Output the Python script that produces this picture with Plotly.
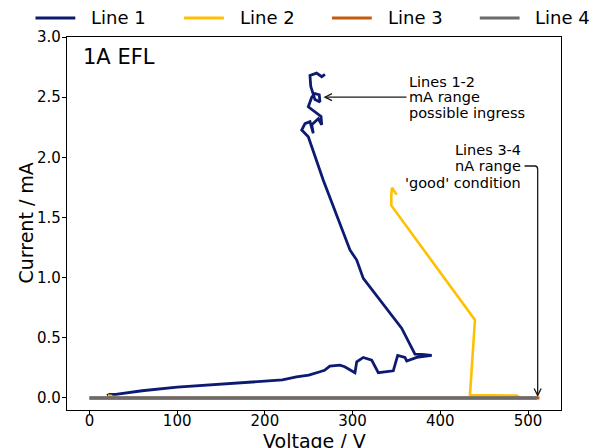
import plotly.graph_objects as go

# ---- data -------------------------------------------------------------
line1_v = [20, 23, 30, 60, 100, 130, 160, 200, 220, 236, 250, 262.8, 268, 274,
           285.6, 291, 297, 302.7, 304.7, 312.2, 321.8, 329.3, 346.4, 348.3,
           351.4, 359.7, 361.7, 373.1, 390.2, 378.8, 371.1, 355.9, 312.2,
           304.7, 297, 266.6, 249.5, 242, 245.7, 251.4, 255.2, 253.4, 260.9,
           264.8, 264, 249.5, 253.4, 257.1, 262, 262.8, 257.1, 252.3, 251.4,
           259, 264.8, 268.5]
line1_i = [0.02, 0.03, 0.03, 0.06, 0.09, 0.105, 0.12, 0.14, 0.15, 0.176, 0.19,
           0.218, 0.23, 0.265, 0.273, 0.26, 0.232, 0.21, 0.30, 0.337, 0.315,
           0.21, 0.226, 0.27, 0.354, 0.337, 0.307, 0.337, 0.354, 0.362, 0.365,
           0.58, 0.994, 1.146, 1.23, 1.81, 2.17, 2.227, 2.28, 2.296, 2.2, 2.27,
           2.32, 2.27, 2.34, 2.42, 2.50, 2.53, 2.52, 2.46, 2.48, 2.59, 2.68,
           2.70, 2.67, 2.69]

line2_v = [350.2, 344.9, 344.1, 344.1, 439.5, 433.8, 487, 490, None, 21, 26]
line2_i = [1.69, 1.747, 1.687, 1.60, 0.648, 0.024, 0.02, 0.005, None, 0.02, 0.015]

line3_v = [0, 513]
line3_i = [0, 0]

line4_v = [0, 510]
line4_i = [0, 0]

series_names = ["Line 1", "Line 2", "Line 3", "Line 4"]
series_colors = ["#0d1a72", "#FFC000", "#C55A11", "#6b6b6b"]
series_widths = [2.8, 2.6, 3.0, 3.6]

x_ticks = [0, 100, 200, 300, 400, 500]
y_ticks = [0.0, 0.5, 1.0, 1.5, 2.0, 2.5, 3.0]
x_range = [-25.6, 537.6]
y_range = [-0.1, 3.0]

FONT = "DejaVu Sans"

fig = go.Figure()
for name, vx, vy, col, w in zip(series_names,
                                [line1_v, line2_v, line3_v, line4_v],
                                [line1_i, line2_i, line3_i, line4_i],
                                series_colors, series_widths):
    fig.add_trace(go.Scatter(x=vx, y=vy, mode="lines", name=name,
                             line=dict(color=col, width=w),
                             connectgaps=False, showlegend=False))

# ---- legend row above the axes (paper coordinates) --------------------
leg_y = 1.051
leg_x0 = [-0.0638, 0.2370, 0.5364, 0.8356]
sample_len = 0.0806
for name, col, x0 in zip(series_names, series_colors, leg_x0):
    fig.add_shape(type="line", xref="paper", yref="paper",
                  x0=x0, x1=x0 + sample_len, y0=leg_y, y1=leg_y,
                  line=dict(color=col, width=3))
    fig.add_annotation(xref="paper", yref="paper", x=x0 + sample_len + 0.028,
                       y=leg_y, text=name, showarrow=False,
                       xanchor="left", yanchor="middle",
                       font=dict(family=FONT, size=18, color="black"))

# ---- panel label --------------------------------------------------------
fig.add_annotation(xref="paper", yref="paper", x=0.029, y=0.9456,
                   text="1A EFL", showarrow=False, xanchor="left",
                   yanchor="middle",
                   font=dict(family=FONT, size=21, color="black"))

# ---- axis titles ------------------------------------------------------
title_font = dict(family=FONT, size=19, color="black")
fig.add_annotation(xref="paper", yref="paper", x=0.5, y=-0.083,
                   text="Voltage / V", showarrow=False,
                   xanchor="center", yanchor="middle", font=title_font)
fig.add_annotation(xref="paper", yref="paper", x=-0.0850, y=0.5,
                   text="Current / mA", showarrow=False, textangle=-90,
                   xanchor="center", yanchor="middle", font=title_font)

# ---- callout for lines 1-2 -------------------------------------------
note_font = dict(family=FONT, size=14.5, color="black")
for txt, yy in zip(["Lines 1-2", "mA range", "possible ingress"],
                   [2.628, 2.499, 2.368]):
    fig.add_annotation(x=362.0, y=yy, text=txt, showarrow=False,
                       xanchor="left", yanchor="middle", font=note_font)

arrow_col = "#1a1a1a"
fig.add_shape(type="line", x0=361.4, x1=268.5, y0=2.5, y1=2.5,
              line=dict(color=arrow_col, width=1.3))
fig.add_shape(type="path", path="M 276.5,2.529 L 268.5,2.5 L 276.5,2.471",
              line=dict(color=arrow_col, width=1.3))

# ---- callout for lines 3-4 -------------------------------------------
for txt, yy in zip(["Lines 3-4", "nA range", "'good' condition"],
                   [2.061, 1.928, 1.789]):
    fig.add_annotation(x=494.0, y=yy, text=txt, showarrow=False,
                       xanchor="right", yanchor="middle", font=note_font)

fig.add_shape(type="path",
              path="M 496,1.928 L 508,1.928 Q 511,1.928 511,1.90 L 511,0.02",
              line=dict(color=arrow_col, width=1.3))
fig.add_shape(type="path", path="M 507,0.078 L 511,0.02 L 515,0.078",
              line=dict(color=arrow_col, width=1.3))

# ---- axes -------------------------------------------------------------
axis_common = dict(showline=True, linecolor="black", linewidth=1.3,
                   mirror=True, showgrid=False, zeroline=False,
                   ticks="outside", ticklen=4, tickwidth=1, tickcolor="black",
                   automargin=False,
                   tickfont=dict(family=FONT, size=15, color="black"))

fig.update_xaxes(range=x_range, tickvals=x_ticks,
                 ticktext=[str(v) for v in x_ticks],
                 ticklabelstandoff=-7, **axis_common)
fig.update_yaxes(range=y_range, tickvals=y_ticks,
                 ticktext=[f"{v:.1f}" for v in y_ticks],
                 ticklabelstandoff=-2, **axis_common)

fig.update_layout(width=598, height=448,
                  margin=dict(l=67, r=37, t=37, b=38),
                  plot_bgcolor="white", paper_bgcolor="white",
                  showlegend=False)

fig.write_html("out.html")
